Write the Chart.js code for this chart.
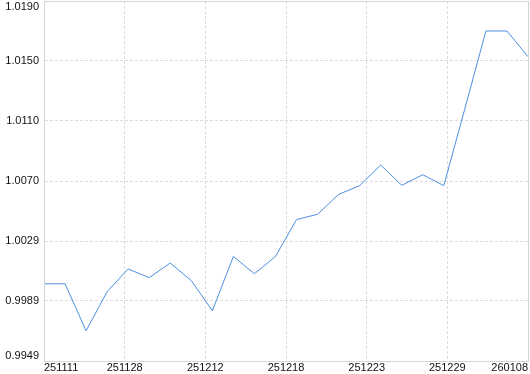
<!DOCTYPE html>
<html>
<head>
<meta charset="utf-8">
<script src="https://cdn.jsdelivr.net/npm/chart.js@4"></script>
<style>
  html, body { margin: 0; padding: 0; background: #fff; }
</style>
</head>
<body>
<canvas id="chart" width="530" height="374"></canvas>
<script>
// series values, one per trading day
const values = [
  1.00008, 1.00008, 0.99693, 0.99955, 1.00107, 1.00049, 1.00147, 1.00029,
  0.99827, 1.00191, 1.00075, 1.00191, 1.00438, 1.00474, 1.00607, 1.00666,
  1.00804, 1.00668, 1.00739, 1.00666, 1.01182, 1.01703, 1.01703, 1.01531
];
const xLabels = ["251111", "251128", "251212", "251218", "251223", "251229", "260108"];
const yLabels = ["0.9949", "0.9989", "1.0029", "1.0070", "1.0110", "1.0150", "1.0190"];
const yMin = 0.9949;
const yMax = 1.01904;

const lastIndex = values.length - 1;

// solid frame round the plot area, the grid itself is dashed
const frame = {
  id: "frame",
  afterDatasetsDraw(chart) {
    const a = chart.chartArea;
    const ctx = chart.ctx;
    ctx.save();
    ctx.strokeStyle = "#d4d4d4";
    ctx.lineWidth = 1;
    ctx.setLineDash([]);
    ctx.strokeRect(Math.round(a.left) + 0.5, Math.round(a.top) + 0.5,
      Math.round(a.right - a.left), Math.round(a.bottom - a.top));
    ctx.restore();
  }
};

const ctx = document.getElementById("chart");
new Chart(ctx, {
  type: "line",
  data: {
    datasets: [{
      data: values.map((v, i) => ({ x: i, y: v })),
      borderColor: "#4a8fe3",
      borderWidth: 1,
      pointRadius: 0,
      tension: 0,
      fill: false
    }]
  },
  options: {
    responsive: false,
    animation: false,
    devicePixelRatio: 1,
    layout: { padding: { top: 1, right: 2, left: 0, bottom: 0 } },
    plugins: {
      legend: { display: false },
      tooltip: { enabled: false }
    },
    scales: {
      x: {
        type: "linear",
        min: 0,
        max: lastIndex,
        afterBuildTicks: (scale) => {
          scale.ticks = xLabels.map((_, i) => ({ value: i * lastIndex / (xLabels.length - 1) }));
        },
        ticks: {
          align: "inner",
          maxRotation: 0,
          autoSkip: false,
          padding: 1,
          color: "#111",
          font: { family: "Liberation Sans", size: 11, lineHeight: 1 },
          callback: (v, i) => xLabels[i]
        },
        grid: { color: "#dcdcdc", drawTicks: false },
        border: { color: "#cfcfcf", dash: [3, 2] }
      },
      y: {
        type: "linear",
        min: yMin,
        max: yMax,
        afterBuildTicks: (scale) => {
          scale.ticks = yLabels.map((_, i) => ({ value: yMin + i * (yMax - yMin) / (yLabels.length - 1) }));
        },
        afterFit: (scale) => {
          scale.width = 44;
          scale.paddingTop = 0;
          scale.paddingBottom = 0;
        },
        ticks: {
          padding: 5,
          color: "#111",
          font: { family: "Liberation Sans", size: 11, lineHeight: 1 },
          // push the end labels inside the plot height
          callback: (v, i) => {
            if (i === 0) return [yLabels[i], ""];
            if (i === yLabels.length - 1) return ["", yLabels[i]];
            return yLabels[i];
          }
        },
        grid: { color: "#dcdcdc", drawTicks: false },
        border: { color: "#cfcfcf", dash: [3, 2] }
      }
    }
  },
  plugins: [frame]
});
</script>
</body>
</html>
